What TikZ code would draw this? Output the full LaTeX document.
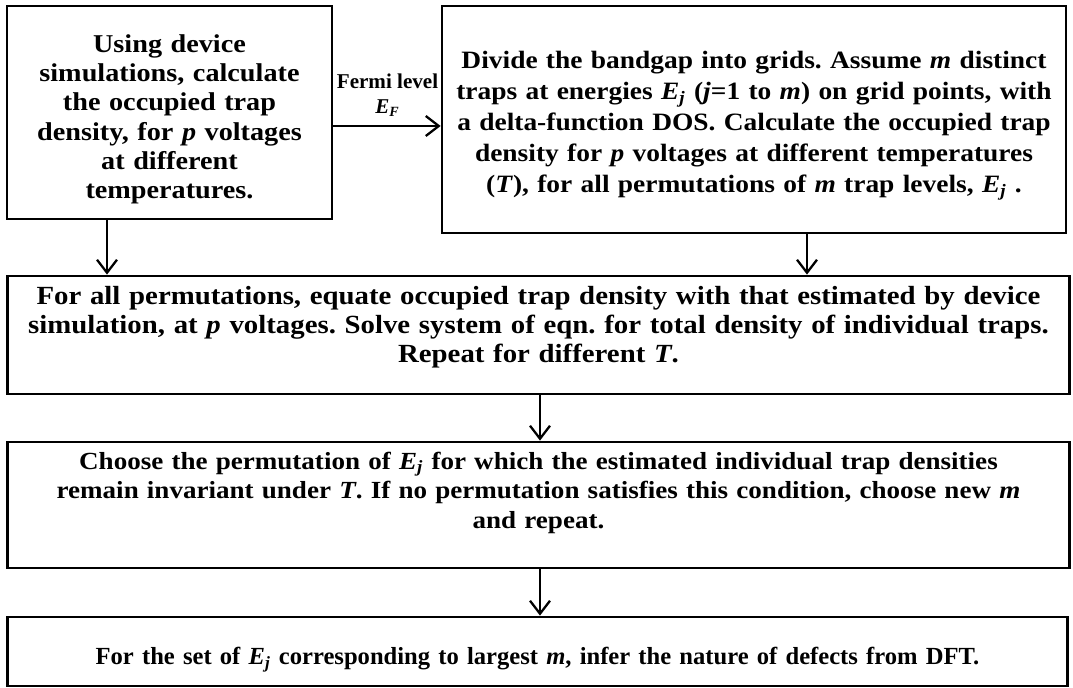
\documentclass[tikz,border=0pt]{standalone}
\usepackage{fontspec}
\setmainfont{Liberation Serif}
\newfontfamily\wideface{Liberation Serif}[FakeStretch=1.1]
\usetikzlibrary{arrows.meta}

\newcommand{\iv}[1]{\textit{#1}}
\newcommand{\Ej}{\textit{E}\textsubscript{\textit{j}}}
% struts to nudge a text block down (top) or up (bottom)
\newcommand{\topstrut}[1]{\rule{0pt}{#1}}
\newcommand{\botstrut}[1]{\rule[-#1]{0pt}{0pt}}

\tikzset{
  box/.style={draw, line width=1.6pt, inner sep=0pt, align=center},
  flow/.style={line width=1.3pt, -{Straight Barb[length=2.6mm, width=4mm, line width=1.3pt]}},
}

\begin{document}
\frenchspacing
\begin{tikzpicture}[x=0.02cm, y=-0.02cm]
	\useasboundingbox (0,0) rectangle (1073,688);

	\node[box, minimum width=6.5cm, minimum height=4.26cm, text width=6.2cm,
		font=\wideface\fontsize{14.6}{16.7}\selectfont\bfseries] (sim) at (169.5,112.5)
		{\topstrut{18pt}Using device\\ simulations, calculate\\ the occupied trap\\ density, for \iv{p} voltages\\ at different\\ temperatures.};
	\node[box, minimum width=12.48cm, minimum height=4.54cm, text width=12.2cm,
		font=\wideface\fontsize{14.2}{17.6}\selectfont\bfseries] (grid) at (754,119.5)
		{\topstrut{17pt}Divide the bandgap into grids. Assume \iv{m} distinct\\ traps at energies \Ej{} (\iv{j}=1 to \iv{m}) on grid points, with\\ a delta-function DOS. Calculate the occupied trap\\ density for \iv{p} voltages at different temperatures\\ (\iv{T}), for all permutations of \iv{m} trap levels, \Ej{} .};
	\node[box, minimum width=21.26cm, minimum height=2.36cm, text width=21cm,
		font=\wideface\fontsize{14.9}{16.4}\selectfont\bfseries] (equate) at (538.5,335)
		{For all permutations, equate occupied trap density with that estimated by device\\ simulation, at \iv{p} voltages. Solve system of eqn. for total density of individual traps.\\ Repeat for different \iv{T}.\botstrut{12pt}};
	\node[box, minimum width=21.26cm, minimum height=2.52cm, text width=21cm,
		font=\wideface\fontsize{14}{16.8}\selectfont\bfseries] (choose) at (538.5,505)
		{Choose the permutation of \Ej{} for which the estimated individual trap densities\\ remain invariant under \iv{T}. If no permutation satisfies this condition, choose new \iv{m}\\ and repeat.\botstrut{17pt}};
	\node[box, minimum width=21.22cm, minimum height=1.38cm, text width=21cm,
		font=\fontsize{14}{16.8}\selectfont\bfseries] (dft) at (537.5,651.5)
		{\topstrut{19pt}For the set of \Ej{} corresponding to largest \iv{m}, infer the nature of defects from DFT.};

	\node[font=\fontsize{12}{14}\selectfont\bfseries, align=center] (fermi) at (387.5,95.5)
		{Fermi level\\ \iv{E}\textsubscript{\iv{F}}};

	\coordinate (x1) at (107,0);
	\coordinate (x2) at (807,0);
	\coordinate (x3) at (540,0);
	\coordinate (y1) at (0,126);

	\draw[flow] (sim.east |- y1) -- (grid.west |- y1);
	\draw[flow] (sim.south -| x1) -- (equate.north -| x1);
	\draw[flow] (grid.south -| x2) -- (equate.north -| x2);
	\draw[flow] (equate.south -| x3) -- (choose.north -| x3);
	\draw[flow] (choose.south -| x3) -- (dft.north -| x3);
\end{tikzpicture}
\end{document}
